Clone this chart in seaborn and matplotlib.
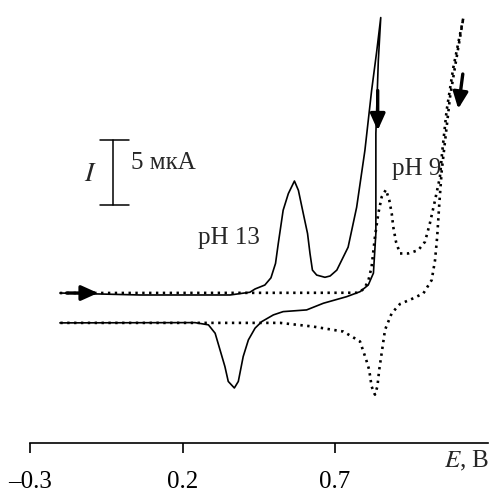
"""Cyclic voltammograms at pH 13 and pH 9 (seaborn line plots)."""

import matplotlib
matplotlib.use("Agg")
import matplotlib.pyplot as plt
import pandas as pd
import seaborn as sns

# pH 13, solid curve: forward scan then reverse scan (E in V, I in uA)
ph13_e = [-0.202, 0.061, 0.356, 0.421, 0.438, 0.470, 0.490, 0.505, 0.514, 0.530,
          0.547, 0.567, 0.580, 0.596, 0.610, 0.618, 0.626, 0.640, 0.667, 0.684,
          0.706, 0.743, 0.771, 0.798, 0.820, 0.837, 0.850,
          0.842, 0.834, 0.834, 0.826, 0.809, 0.782, 0.738, 0.662, 0.607, 0.530,
          0.498, 0.460, 0.438, 0.416, 0.399, 0.383, 0.370, 0.350, 0.339, 0.323,
          0.307, 0.285, 0.241, -0.202]
ph13_i = [1.14, 0.99, 0.99, 1.20, 1.45, 1.75, 2.30, 3.40, 4.92, 7.46,
          8.73, 9.69, 8.98, 7.21, 5.68, 4.16, 2.89, 2.51, 2.34, 2.44,
          2.89, 4.64, 7.69, 12.02, 16.59, 19.63, 22.17,
          18.87, 13.32, 5.71, 2.66, 1.75, 1.24, 0.86, 0.36, -0.15, -0.28,
          -0.53, -1.04, -1.54, -2.44, -3.71, -5.61, -6.11, -5.61, -4.47, -3.20,
          -1.93, -1.29, -1.12, -1.14]

# pH 9, dotted curve
ph9_e = [-0.202, 0.775, 0.795, 0.809, 0.820, 0.831, 0.842, 0.853, 0.867, 0.878,
         0.886, 0.891, 0.900, 0.913, 0.940, 0.973, 0.995, 1.011, 1.028, 1.044,
         1.051, 1.066, 1.088, 1.121,
         1.093, 1.077, 1.050, 1.042, 1.035, 1.028, 1.017, 0.990, 0.957, 0.913,
         0.886, 0.864, 0.853, 0.845, 0.839, 0.831, 0.820, 0.812, 0.804, 0.795,
         0.782, 0.755, 0.727, 0.628, 0.520, -0.202]
ph9_i = [1.14, 1.16, 1.45, 2.05, 3.14, 5.43, 7.21, 8.47, 9.03, 8.22,
         7.21, 6.19, 5.05, 4.16, 4.16, 4.41, 5.05, 6.45, 8.22, 9.99,
         11.80, 15.07, 18.36, 22.17,
         18.34, 16.08, 10.50, 7.97, 5.43, 3.65, 2.13, 1.12, 0.74, 0.30,
         -0.40, -1.67, -3.45, -4.72, -5.99, -6.62, -5.99, -4.72, -4.09, -3.45,
         -2.56, -2.18, -1.80, -1.42, -1.14, -1.14]

x_ticks = [-0.3, 0.2, 0.7]
x_tick_labels = ["\u20130.3", "0.2", "0.7"]

sns.set_style("ticks")
plt.rcParams["font.family"] = ["Liberation Serif", "DejaVu Serif"]
plt.rcParams["mathtext.fontset"] = "stix"

fig = plt.figure(figsize=(4.91, 4.93), dpi=100)
ax = fig.add_axes([30 / 491, 1 - 443 / 493, 457.5 / 491, 443 / 493])

df13 = pd.DataFrame({"E": ph13_e, "I": ph13_i})
df9 = pd.DataFrame({"E": ph9_e, "I": ph9_i})
sns.lineplot(data=df13, x="E", y="I", sort=False, estimator=None,
             color="black", lw=1.2, ax=ax)
sns.lineplot(data=df9, x="E", y="I", sort=False, estimator=None,
             color="black", lw=1.9, linestyle=(0, (0.9, 1.7)), ax=ax)

ax.set_xlim(-0.3, 1.2)
ax.set_ylim(-10.31, 23.51)
ax.set_xticks(x_ticks)
ax.set_xticklabels(x_tick_labels)
ax.tick_params(axis="x", direction="out", length=7, width=1.2, pad=13,
               labelsize=18, colors="black")
ax.set_yticks([])
ax.set_xlabel("")
ax.set_ylabel("")
for side in ["top", "left", "right"]:
    ax.spines[side].set_visible(False)
ax.spines["bottom"].set_linewidth(1.2)
ax.spines["bottom"].set_color("black")

# scale bar
ax.plot([-0.028, -0.028], [7.84, 12.86], color="black", lw=1.1)
ax.plot([-0.07, 0.025], [12.86, 12.86], color="black", lw=1.1)
ax.plot([-0.07, 0.025], [7.84, 7.84], color="black", lw=1.1)
ax.text(0.031, 11.1, "5 мкА", fontsize=18, ha="left", va="center")
ax.text(-0.101, 10.2, "$I$", fontsize=20, ha="center", va="center")

ax.text(0.352, 4.92, "pH 13", fontsize=18, ha="center", va="baseline")
ax.text(0.968, 10.12, "pH 9", fontsize=18, ha="center", va="baseline")
ax.text(1.058, -11.7, "$E$, В", fontsize=18, ha="left", va="center",
        clip_on=False)

arrow = dict(arrowstyle="-|>,head_length=1.0,head_width=0.45",
             color="black", lw=2.4, shrinkA=0, shrinkB=0)
ax.annotate("", xy=(-0.077, 1.14), xytext=(-0.18, 1.14), arrowprops=arrow)
ax.annotate("", xy=(0.840, 13.55), xytext=(0.840, 16.6), arrowprops=arrow)
ax.annotate("", xy=(1.104, 15.2), xytext=(1.119, 17.86), arrowprops=arrow)

fig.savefig("out.png", dpi=100)
